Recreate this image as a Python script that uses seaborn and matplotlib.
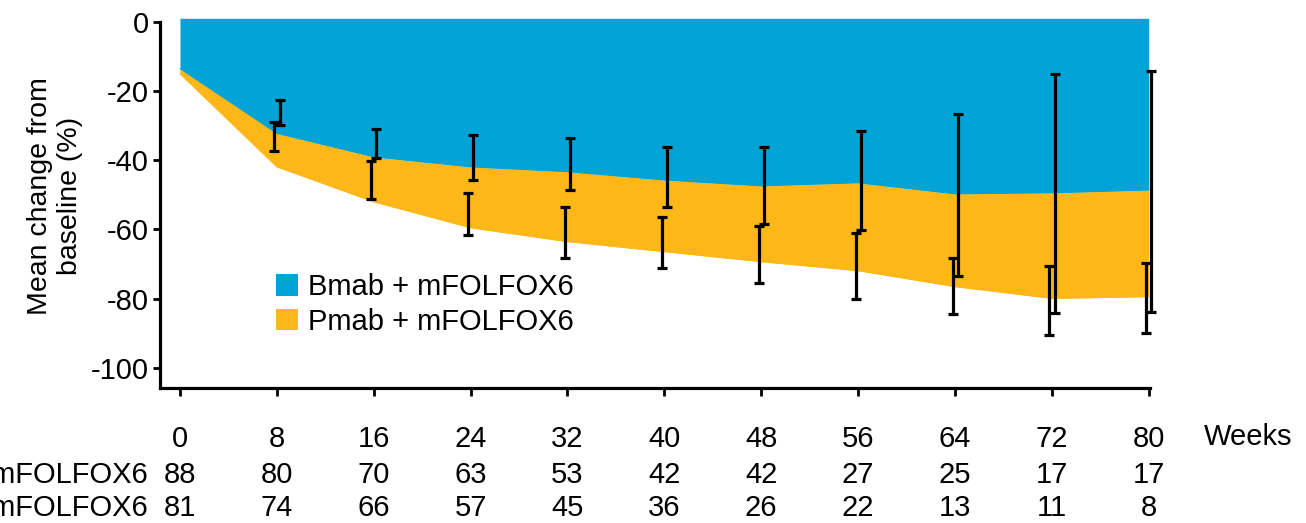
import numpy as np
import pandas as pd
import matplotlib
matplotlib.use("Agg")
import matplotlib.pyplot as plt
import matplotlib.transforms as mtransforms
from matplotlib.patches import Patch
from matplotlib import font_manager
import seaborn as sns

# ---- data -------------------------------------------------------------
weeks = [0, 8, 16, 24, 32, 40, 48, 56, 64, 72, 80]

bmab_mean = [-13.5, -32.2, -39.0, -41.9, -43.3, -45.7, -47.4, -46.5, -49.7, -49.4, -48.6]
pmab_mean = [-15.0, -41.9, -52.0, -59.5, -63.5, -66.4, -69.3, -71.9, -76.5, -79.9, -79.4]

bmab_err_hi = [np.nan, -22.7, -31.0, -32.7, -33.7, -36.3, -36.3, -31.5, -26.6, -15.1, -14.1]
bmab_err_lo = [np.nan, -29.8, -39.4, -45.7, -48.6, -53.6, -58.4, -60.1, -73.4, -84.2, -83.9]
pmab_err_hi = [np.nan, -29.0, -40.2, -49.5, -53.6, -56.5, -59.0, -60.9, -68.3, -70.5, -69.8]
pmab_err_lo = [np.nan, -37.2, -51.3, -61.6, -68.3, -71.2, -75.4, -80.2, -84.5, -90.5, -89.8]

n_bmab = [88, 80, 70, 63, 53, 42, 42, 27, 25, 17, 17]
n_pmab = [81, 74, 66, 57, 45, 36, 26, 22, 13, 11, 8]

arm_labels = ["Bmab + mFOLFOX6", "Pmab + mFOLFOX6"]
y_ticks = [0, -20, -40, -60, -80, -100]

BLUE = "#02A4D8"
ORANGE = "#FDB719"

# ---- style ------------------------------------------------------------
sns.set_theme(style="ticks")
available = {f.name for f in font_manager.fontManager.ttflist}
narrow = "Liberation Sans Narrow" if "Liberation Sans Narrow" in available else "Liberation Sans"
plt.rcParams["font.family"] = ["Liberation Sans", "DejaVu Sans"]
plt.rcParams["axes.unicode_minus"] = False
plt.rcParams["text.color"] = "black"
plt.rcParams["axes.labelcolor"] = "black"

df = pd.DataFrame({
    "week": weeks,
    "bmab": bmab_mean,
    "pmab": pmab_mean,
    "b_lo": bmab_err_lo, "b_hi": bmab_err_hi,
    "p_lo": pmab_err_lo, "p_hi": pmab_err_hi,
})

fig = plt.figure(figsize=(13.06, 5.23), dpi=100)
ax = fig.add_axes([0.1225, 0.2581, 0.7580, 0.7069])

Y_TOP = 1.0
ax.set_xlim(-1.65, 80.1)
ax.set_ylim(-105.8, Y_TOP)

# shaded mean-change areas
ax.fill_between(df["week"], Y_TOP, df["bmab"], color=BLUE, lw=0, zorder=1)
ax.fill_between(df["week"], df["bmab"], df["pmab"], color=ORANGE, lw=0, zorder=1)
sns.lineplot(data=df, x="week", y="bmab", ax=ax, color=BLUE, lw=0.8, zorder=1.5)
sns.lineplot(data=df, x="week", y="pmab", ax=ax, color=ORANGE, lw=0.8, zorder=1.5)

# error bars, nudged apart per arm
eb = df.dropna()
for lo, hi, dx in (("p_lo", "p_hi", -0.2), ("b_lo", "b_hi", 0.22)):
    mid = (eb[lo] + eb[hi]) / 2
    half = (eb[hi] - eb[lo]) / 2
    bars = ax.errorbar(eb["week"] + dx, mid, yerr=half, fmt="none", ecolor="black",
                       elinewidth=2.3, capsize=3.6, capthick=2.3, zorder=3)
    for art in bars.lines[1] + bars.lines[2]:
        art.set_clip_on(False)

# axes styling
for side in ("top", "right"):
    ax.spines[side].set_visible(False)
for side in ("left", "bottom"):
    ax.spines[side].set_linewidth(2.3)
    ax.spines[side].set_color("black")
ax.spines["left"].set_bounds(-105.8, 0)

ax.set_xticks(weeks)
ax.set_xticklabels([str(w) for w in weeks])
ax.set_yticks(y_ticks)
ax.set_yticklabels([str(v) for v in y_ticks])
ax.tick_params(axis="x", length=6, width=2, pad=20.5, labelsize=21, colors="black")
ax.tick_params(axis="y", length=5, width=2, pad=3, labelsize=21, colors="black")
for lab in ax.get_xticklabels() + ax.get_yticklabels():
    lab.set_family([narrow, "DejaVu Sans"])

ax.set_xlabel("")
ax.set_ylabel("Mean change from\nbaseline (%)", fontsize=20.5, linespacing=1.2)
ax.yaxis.set_label_coords(-0.078, 0.52)

ax.text(1.054, -0.132, "Weeks", transform=ax.transAxes, ha="left", va="center",
        fontsize=21, family=[narrow, "DejaVu Sans"])

# legend
handles = [Patch(facecolor=BLUE, edgecolor="none"), Patch(facecolor=ORANGE, edgecolor="none")]
ax.legend(handles, arm_labels, loc="upper left", bbox_to_anchor=(0.117, 0.31),
          frameon=False, fontsize=21, handlelength=0.76, handleheight=0.76,
          handletextpad=0.34, labelspacing=0.22, borderaxespad=0, borderpad=0)

# number-at-risk rows
trans = mtransforms.blended_transform_factory(ax.transData, fig.transFigure)
for row_y, label, counts in ((1 - 475 / 523, arm_labels[0], n_bmab),
                             (1 - 508 / 523, arm_labels[1], n_pmab)):
    fig.text(148 / 1306, row_y, label, ha="right", va="center", fontsize=21,
             family=[narrow, "DejaVu Sans"])
    for w, n in zip(weeks, counts):
        ax.text(w, row_y, str(n), transform=trans, ha="center", va="center",
                fontsize=21, family=[narrow, "DejaVu Sans"], clip_on=False)

fig.savefig("out.png", dpi=100)
